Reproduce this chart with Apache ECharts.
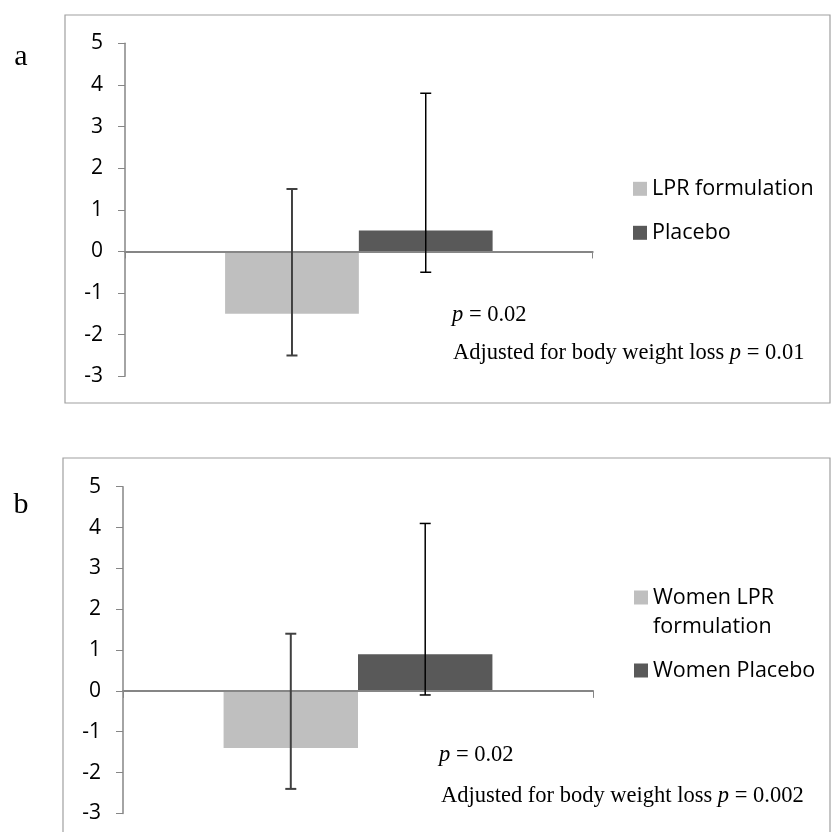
<!DOCTYPE html>
<html><head><meta charset="utf-8">
<script src="https://cdn.jsdelivr.net/npm/echarts@6/dist/echarts.min.js"></script>
<style>html,body{margin:0;padding:0;background:#fff}#c{width:831px;height:832px}</style>
</head><body><div id="c"></div>
<script>
// ---- data ----
const categories = ['All'];
const yMin = -3, yMax = 5, yStep = 1;

const namesA = ['LPR formulation', 'Placebo'];
const meanA = [-1.5, 0.5];
const errLowA = [-2.5, -0.5];
const errHighA = [1.5, 3.8];

const namesB = ['Women LPR formulation', 'Women Placebo'];
const meanB = [-1.4, 0.9];
const errLowB = [-2.4, -0.1];
const errHighB = [1.4, 4.1];

const panelLabels = ['a', 'b'];
const pTextA = ['{i|p} = 0.02', 'Adjusted for body weight loss {i|p} = 0.01'];
const pTextB = ['{i|p} = 0.02', 'Adjusted for body weight loss {i|p} = 0.002'];

// ---- styles ----
const barColors = ['#BFBFBF', '#595959'];
const errColors = ['#404040', '#000000'];
const errWidths = [2, 1.5];
const axisGray = '#868686';
const BAR_FRAC = 0.286;

const chart = echarts.init(document.getElementById('c'));

function yAxisCfg(gi) {
  return {
    type: 'value', gridIndex: gi, min: yMin, max: yMax, interval: yStep,
    axisLine: { show: true, lineStyle: { color: axisGray, width: 1.5 } },
    axisTick: { show: true, length: 7, lineStyle: { color: axisGray, width: 1 } },
    splitLine: { show: false },
    axisLabel: { margin: 22, color: '#000', fontFamily: 'Open Sans', fontSize: 21 }
  };
}
function xAxisCfg(gi) {
  return {
    type: 'category', gridIndex: gi, data: categories, z: 5,
    axisLine: { onZero: true, lineStyle: { color: axisGray, width: 2 } },
    axisTick: { show: true, length: 7, lineStyle: { color: axisGray, width: 1 } },
    axisLabel: { show: false }
  };
}
function barSeries(name, val, idx, gi) {
  return {
    type: 'bar', name: name, xAxisIndex: gi, yAxisIndex: gi,
    data: [val], barWidth: (BAR_FRAC * 100) + '%', barGap: '0%',
    itemStyle: { color: barColors[idx] }, z: 2, silent: true
  };
}
function errSeries(lo, hi, idx, gi) {
  const sign = idx === 0 ? -1 : 1;
  return {
    type: 'custom', xAxisIndex: gi, yAxisIndex: gi, z: 10, silent: true,
    data: [[0, lo, hi]],
    renderItem: function (params, api) {
      const band = api.size([1, 0])[0];
      const cx = api.coord([api.value(0), 0])[0] + sign * band * BAR_FRAC / 2;
      const yLo = api.coord([api.value(0), api.value(1)])[1];
      const yHi = api.coord([api.value(0), api.value(2)])[1];
      const h = 5.5;
      const st = { stroke: errColors[idx], lineWidth: errWidths[idx] };
      return { type: 'group', children: [
        { type: 'line', shape: { x1: cx, y1: yHi, x2: cx, y2: yLo }, style: st },
        { type: 'line', shape: { x1: cx - h, y1: yHi, x2: cx + h, y2: yHi }, style: st },
        { type: 'line', shape: { x1: cx - h, y1: yLo, x2: cx + h, y2: yLo }, style: st }
      ]};
    }
  };
}
const legendText = { color: '#000', fontFamily: 'Open Sans', fontSize: 21.5, lineHeight: 29 };
const rich = { i: { fontStyle: 'italic', fontFamily: 'Liberation Serif', fontSize: 22.5 } };
function annot(x, y, t) {
  return { type: 'text', x: x, y: y, style: { text: t, fontFamily: 'Liberation Serif', fontSize: 22.5, fill: '#000', verticalAlign: 'middle', rich: rich } };
}

chart.setOption({
  animation: false,
  grid: [
    { left: 125, top: 43.3, width: 467.7, height: 333 },
    { left: 123, top: 486.7, width: 470, height: 326.7 }
  ],
  xAxis: [xAxisCfg(0), xAxisCfg(1)],
  yAxis: [yAxisCfg(0), yAxisCfg(1)],
  legend: [
    { data: namesA, left: 633, top: 174.3, padding: 0, orient: 'vertical', icon: 'rect', itemWidth: 14, itemHeight: 14, itemGap: 15, textStyle: legendText, selectedMode: false },
    { data: namesB, left: 634, top: 554, padding: 0, orient: 'vertical', icon: 'rect', itemWidth: 14, itemHeight: 14, itemGap: 15, textStyle: legendText, selectedMode: false,
      formatter: function (n) { return n === 'Women LPR formulation' ? '\nWomen LPR\nformulation' : n; } }
  ],
  graphic: [
    { type: 'rect', shape: { x: 65, y: 15, width: 765, height: 388 }, style: { fill: 'none', stroke: '#a0a0a0', lineWidth: 1.2 } },
    { type: 'rect', shape: { x: 63, y: 458, width: 767, height: 400 }, style: { fill: 'none', stroke: '#a0a0a0', lineWidth: 1.2 } },
    { type: 'text', x: 21, y: 57, style: { text: panelLabels[0], fontFamily: 'Liberation Serif', fontSize: 30, fill: '#000', align: 'center', verticalAlign: 'middle' } },
    { type: 'text', x: 21, y: 505, style: { text: panelLabels[1], fontFamily: 'Liberation Serif', fontSize: 30, fill: '#000', align: 'center', verticalAlign: 'middle' } },
    annot(452, 315, pTextA[0]),
    annot(453, 353, pTextA[1]),
    annot(439, 755, pTextB[0]),
    annot(441, 796, pTextB[1])
  ],
  series: [
    barSeries(namesA[0], meanA[0], 0, 0),
    barSeries(namesA[1], meanA[1], 1, 0),
    errSeries(errLowA[0], errHighA[0], 0, 0),
    errSeries(errLowA[1], errHighA[1], 1, 0),
    barSeries(namesB[0], meanB[0], 0, 1),
    barSeries(namesB[1], meanB[1], 1, 1),
    errSeries(errLowB[0], errHighB[0], 0, 1),
    errSeries(errLowB[1], errHighB[1], 1, 1)
  ]
});
</script></body></html>
